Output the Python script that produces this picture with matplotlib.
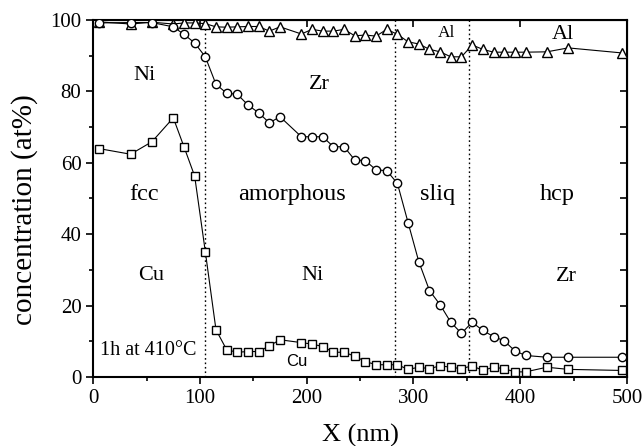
import matplotlib
matplotlib.use("Agg")
import matplotlib.pyplot as plt
from matplotlib.ticker import MultipleLocator

plt.rcParams["font.family"] = ["Liberation Serif", "DejaVu Serif"]

# depth positions (nm)
x_nm = [5, 35, 55, 75, 85, 95, 105, 115, 125, 135, 145, 155, 165, 175, 195, 205,
        215, 225, 235, 245, 255, 265, 275, 285, 295, 305, 315, 325, 335, 345,
        355, 365, 375, 385, 395, 405, 425, 445, 495]

# triangles (Al side, near 100)
al = [99.5, 98.9, 99.4, 98.9, 99.2, 99.2, 99.0, 98.1, 98.0, 98.1, 98.2, 98.2, 96.9,
      98.1, 96.1, 97.4, 96.9, 96.9, 97.4, 95.6, 95.8, 95.5, 97.4, 96.0, 93.9, 93.3,
      91.8, 91.1, 89.7, 89.7, 93.0, 91.8, 91.0, 91.0, 91.0, 91.0, 91.1, 92.2, 90.8]

# circles (Zr)
zr = [99.2, 99.3, 99.3, 98.1, 96.0, 93.6, 89.7, 82.0, 79.5, 79.2, 76.2, 74.0, 71.2,
      72.9, 67.3, 67.3, 67.3, 64.5, 64.5, 60.8, 60.6, 58.0, 57.8, 54.2, 43.2, 32.3,
      24.2, 20.2, 15.3, 12.2, 15.3, 13.0, 11.3, 10.1, 7.3, 6.0, 5.5, 5.5, 5.5]

# squares (Cu)
cu = [64.0, 62.4, 65.9, 72.6, 64.5, 56.3, 35.1, 13.2, 7.6, 6.9, 7.1, 7.1, 8.7,
      10.4, 9.6, 9.2, 8.5, 6.9, 6.9, 5.8, 4.3, 3.4, 3.4, 3.4, 2.1, 2.7, 2.3, 3.1,
      2.7, 2.3, 3.1, 1.8, 2.7, 2.3, 1.4, 1.4, 2.7, 2.1, 1.8]

boundaries = [105, 283, 352]

fig = plt.figure(figsize=(6.43, 4.46), dpi=100)
ax = fig.add_axes([0.145, 0.155, 0.83, 0.80])

for b in boundaries:
    ax.axvline(b, color="black", ls=(0, (1.2, 2.0)), lw=1.0, zorder=1)

style = dict(color="black", lw=0.8, mfc="white", mec="black", mew=1.0, zorder=3)
ax.plot(x_nm, al, marker="^", ms=6.5, **style)
ax.plot(x_nm, zr, marker="o", ms=6, **style)
ax.plot(x_nm, cu, marker="s", ms=5.5, **style)

ax.set_xlim(0, 500)
ax.set_ylim(0, 100)
ax.xaxis.set_major_locator(MultipleLocator(100))
ax.xaxis.set_minor_locator(MultipleLocator(50))
ax.yaxis.set_major_locator(MultipleLocator(20))
ax.yaxis.set_minor_locator(MultipleLocator(10))
ax.tick_params(which="both", direction="out", labelsize=15, width=1.2, top=False, right=False)
ax.tick_params(which="major", length=5)
ax.tick_params(which="minor", length=3)
for s in ax.spines.values():
    s.set_linewidth(1.5)

sec = ax.secondary_xaxis("top")
sec.xaxis.set_major_locator(MultipleLocator(100))
sec.tick_params(direction="in", length=5, width=1.2, labeltop=False)
secy = ax.secondary_yaxis("right")
secy.yaxis.set_major_locator(MultipleLocator(10))
secy.tick_params(direction="in", length=5, width=1.2, labelright=False)

ax.set_xlabel("X (nm)", fontsize=19, labelpad=12)
ax.set_ylabel("concentration (at%)", fontsize=21)
ax.yaxis.set_label_coords(-0.103, 0.468)

elem = dict(fontsize=16, ha="center", va="center")
phase = dict(fontsize=17.5, ha="center", va="center")
ax.text(48, 84.5, "Ni", **elem)
ax.text(212, 82, "Zr", **elem)
ax.text(48, 51, "fcc", **phase)
ax.text(186, 51, "amorphous", **phase)
ax.text(323, 51, "sliq", **phase)
ax.text(435, 51, "hcp", **phase)
ax.text(54, 28.5, "Cu", **elem)
ax.text(205, 28.3, "Ni", **elem)
ax.text(443, 28, "Zr", **elem)
ax.text(331, 96.5, "Al", fontsize=12.5, ha="center", va="center")
ax.text(440, 96, "Al", **elem)
ax.text(52, 7.5, "1h at 410°C", fontsize=14.5, ha="center", va="center")
ax.text(191, 4.3, "Cu", fontsize=12, ha="center", va="center",
        family=["Liberation Sans", "DejaVu Sans"])

fig.savefig("out.png", dpi=100)
